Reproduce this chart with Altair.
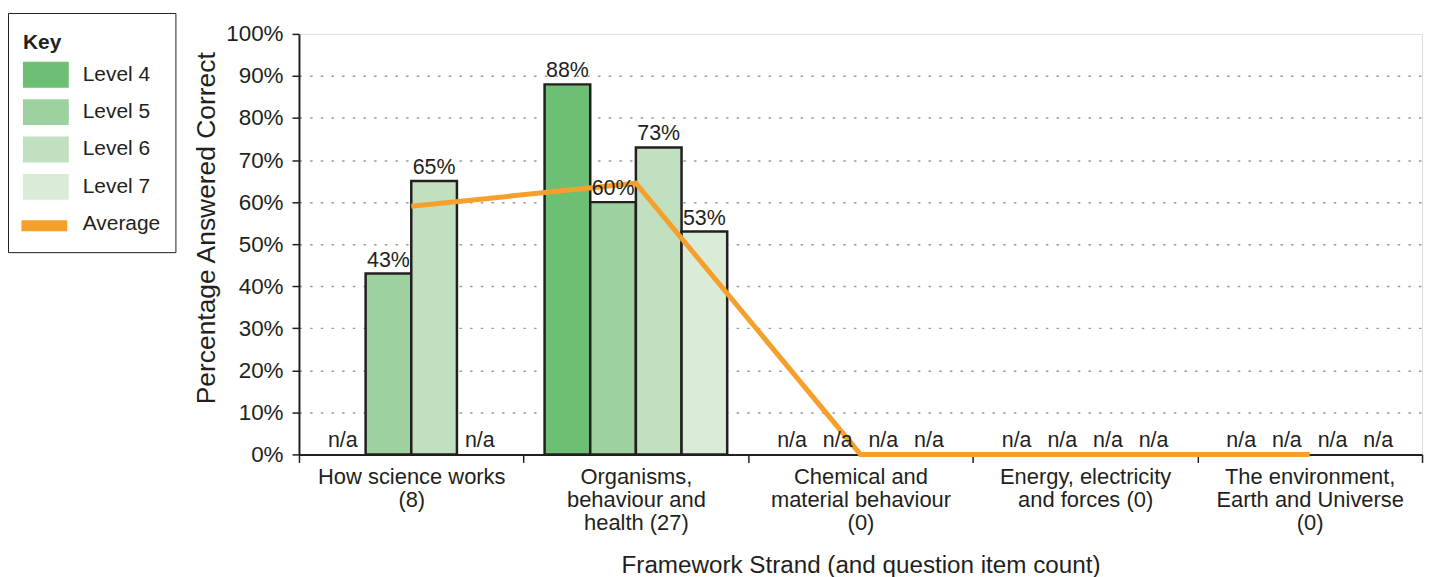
import altair as alt
import pandas as pd

# ---- data ----
categories = [
    "How science works|(8)",
    "Organisms,|behaviour and|health (27)",
    "Chemical and|material behaviour|(0)",
    "Energy, electricity|and forces (0)",
    "The environment,|Earth and Universe|(0)",
]
levels = ["Level 4", "Level 5", "Level 6", "Level 7"]
level4 = [None, 88, None, None, None]
level5 = [43, 60, None, None, None]
level6 = [65, 73, None, None, None]
level7 = [None, 53, None, None, None]
average = [59, 64.5, 0, 0, 0]
y_ticks = [0, 10, 20, 30, 40, 50, 60, 70, 80, 90, 100]
level_colors = ["#6dbf73", "#9dd2a0", "#c0e0c0", "#daecd8"]
average_color = "#f5a02b"

FONT = "Liberation Sans"
TXT = "#231f20"

rows = []
for lvl, vals in zip(levels, [level4, level5, level6, level7]):
    for cat, v in zip(categories, vals):
        rows.append({
            "category": cat,
            "series": lvl,
            "value": v,
            "ypos": 0 if v is None else v,
            "label": "n/a" if v is None else f"{v:g}%",
        })
df = pd.DataFrame(rows)
df_bars = df[df["value"].notna()].copy()
df_avg = pd.DataFrame({"category": categories, "avg": average, "series": "Average"})

# Key box: level swatches plus an "Average" entry whose swatch is blank;
# the thin orange Average swatch comes from the stroke legend drawn on top of it.
fill_scale = alt.Scale(domain=levels + ["Average"], range=level_colors + ["white"])
stroke_scale = alt.Scale(domain=["Average"], range=[average_color])

legend_key = alt.Legend(
    title="Key", orient="none", legendX=-292, legendY=-21, zindex=0,
    titleFont=FONT, titleFontSize=21, titleFontWeight="bold", titleColor=TXT,
    titleBaseline="line-top", titleLineHeight=29, titlePadding=13,
    labelFont=FONT, labelFontSize=21, labelColor=TXT, labelOffset=24,
    symbolType="M-1.77,-1H1.77V1H-1.77Z", symbolSize=676, symbolOffset=10,
    symbolStrokeWidth=0, symbolOpacity=1,
    rowPadding=11.5, padding=15,
    strokeColor=TXT, fillColor="white",
)
legend_avg = alt.Legend(
    title=None, orient="none", legendX=-284, legendY=164, zindex=1,
    symbolType="stroke", symbolSize=2116, symbolStrokeWidth=11, symbolOffset=0,
    symbolOpacity=1, labelExpr="''", padding=0,
)

x_enc = alt.X(
    "category:N", sort=categories,
    scale=alt.Scale(paddingInner=0, paddingOuter=0),
    axis=alt.Axis(
        title="Framework Strand (and question item count)",
        labelAngle=0, labelExpr="split(datum.label, '|')",
        tickBand="extent", tickSize=8, tickWidth=1.5, tickColor=TXT,
        domainColor=TXT, domainWidth=2,
        labelPadding=4, labelBaseline="top", labelLineHeight=23,
        labelFont=FONT, labelFontSize=22, labelColor=TXT,
        labelOverlap=False, labelLimit=0,
        titleFont=FONT, titleFontSize=24.3, titleFontWeight="normal", titleColor=TXT,
        titlePadding=20,
    ),
)
xoff_enc = alt.XOffset(
    "series:N", sort=levels,
    scale=alt.Scale(domain=levels, paddingInner=0, paddingOuter=0.46),
)
y_axis = alt.Axis(
    title="Percentage Answered Correct",
    values=y_ticks, labelExpr="datum.value + '%'",
    tickSize=7, tickWidth=1.5, tickColor=TXT,
    domainColor=TXT, domainWidth=2,
    labelPadding=9, labelFont=FONT, labelFontSize=22.5, labelColor=TXT,
    titleFont=FONT, titleFontSize=26.5, titleFontWeight="normal", titleColor=TXT,
    titlePadding=5.5, titleY=194.5,
    grid=True,
    gridColor={"condition": {"test": "datum.value === 0 || datum.value === 100",
                             "value": "transparent"}, "value": "#9a9a9a"},
    gridDash=[2.5, 8.2], gridWidth=1.5,
)
y_scale = alt.Scale(domain=[0, 100], nice=False)

bars = alt.Chart(df_bars).mark_bar(stroke=TXT, strokeWidth=2.5).encode(
    x=x_enc,
    xOffset=xoff_enc,
    y=alt.Y("value:Q", scale=y_scale, axis=y_axis),
    fill=alt.Fill("series:N", scale=fill_scale, legend=legend_key),
)

line = alt.Chart(df_avg).mark_line(strokeWidth=5, strokeCap="butt").encode(
    x=x_enc,
    y=alt.Y("avg:Q", scale=y_scale, axis=y_axis),
    stroke=alt.Stroke("series:N", scale=stroke_scale, legend=legend_avg),
)

text = alt.Chart(df).mark_text(
    baseline="alphabetic", dy=-7, font=FONT, fontSize=21.5, color=TXT
).encode(
    x=x_enc,
    xOffset=xoff_enc,
    y=alt.Y("ypos:Q", scale=y_scale, axis=y_axis),
    text="label:N",
)

chart = alt.layer(bars, line, text).properties(
    width=1127, height=422,
    padding={"left": -1, "top": 3, "right": 5, "bottom": 0},
).configure_view(stroke=TXT, strokeWidth=2).configure(background="white")

chart.save("out.html", embed_options={"renderer": "svg", "actions": False})
